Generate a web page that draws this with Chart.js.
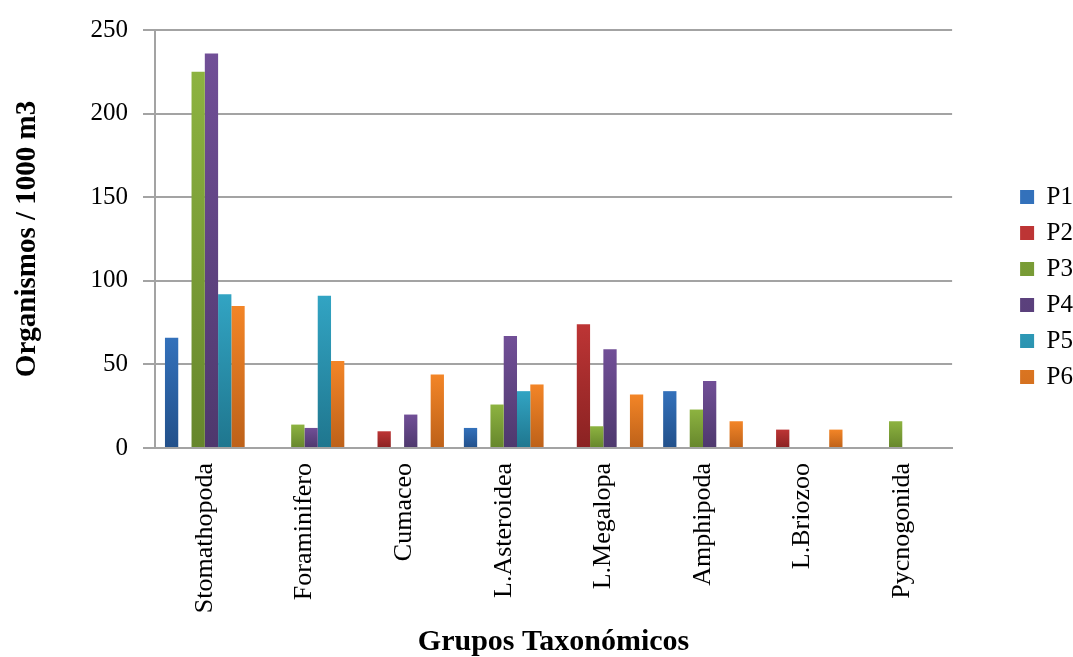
<!DOCTYPE html>
<html>
<head>
<meta charset="utf-8">
<script src="https://cdn.jsdelivr.net/npm/chart.js@4/dist/chart.umd.min.js"></script>
<style>
  html, body { margin: 0; padding: 0; background: #fff; }
  #wrap { width: 1073px; height: 657px; position: relative; }
</style>
</head>
<body>
<div id="wrap"><canvas id="chart"></canvas></div>
<script>
// grupos taxonomicos
const categories = ["Stomathopoda", "Foraminifero", "Cumaceo", "L.Asteroidea", "L.Megalopa", "Amphipoda", "L.Briozoo", "Pycnogonida"];
const seriesNames = ["P1", "P2", "P3", "P4", "P5", "P6"];

const p1 = [66, null, null, 12, null, 34, null, null];
const p2 = [null, null, 10, null, 74, null, 11, null];
const p3 = [225, 14, null, 26, 13, 23, null, 16];
const p4 = [236, 12, 20, 67, 59, 40, null, null];
const p5 = [92, 91, null, 34, null, null, null, null];
const p6 = [85, 52, 44, 38, 32, 16, 11, null];

const yTicks = [0, 50, 100, 150, 200, 250];

// light (top) / dark (bottom) shade per series
const topColors = ["#3371BB", "#BD3535", "#8DB340", "#714F97", "#32A4C3", "#F38527"];
const bottomColors = ["#22508A", "#8A2222", "#66862C", "#4E386D", "#1F768E", "#BD6119"];

const FONT = "'Liberation Serif', 'Times New Roman', serif";
const GRID = "#a3a3a3";

function barFill(i) {
    return function (ctx) {
        const chart = ctx.chart;
        if (!chart.chartArea || ctx.type !== "data" || !ctx.raw) return topColors[i];
        const y = chart.scales.y;
        const top = y.getPixelForValue(ctx.raw);
        const bottom = y.getPixelForValue(0);
        const g = chart.ctx.createLinearGradient(0, top, 0, bottom);
        g.addColorStop(0, topColors[i]);
        g.addColorStop(1, bottomColors[i]);
        return g;
    };
}

const allSeries = [p1, p2, p3, p4, p5, p6];
const datasets = allSeries.map((values, i) => ({
    label: seriesNames[i],
    data: values,
    backgroundColor: barFill(i),
    borderWidth: 0,
    categoryPercentage: 0.8,
    barPercentage: 1.0
}));

new Chart(document.getElementById("chart"), {
    type: "bar",
    data: { labels: categories, datasets: datasets },
    options: {
        responsive: true,
        maintainAspectRatio: false,
        animation: false,
        layout: { padding: { top: 24, right: -10, left: 0, bottom: 0 } },
        plugins: {
            tooltip: { enabled: false },
            legend: {
                position: "right",
                fullSize: false,
                title: { display: true, text: " ", font: { size: 10 }, padding: { top: 84, bottom: 0 } },
                labels: {
                    boxWidth: 14,
                    boxHeight: 14,
                    padding: 11,
                    color: "#000",
                    font: { family: FONT, size: 25 }
                }
            }
        },
        scales: {
            x: {
                grid: { display: false, drawTicks: false },
                border: { display: true, color: GRID, width: 2 },
                ticks: {
                    color: "#000",
                    font: { family: FONT, size: 26 },
                    minRotation: 90,
                    maxRotation: 90,
                    padding: 15
                },
                title: {
                    display: true,
                    text: "Grupos Taxonómicos",
                    color: "#000",
                    font: { family: FONT, size: 30, weight: "bold", lineHeight: 1 },
                    padding: { top: 0, bottom: 0 }
                },
                afterFit: s => { s.height = 209; }
            },
            y: {
                min: 0,
                max: 250,
                afterBuildTicks: s => { s.ticks = yTicks.map(v => ({ value: v })); },
                grid: { color: GRID, lineWidth: 2, drawTicks: true, tickLength: 12 },
                border: { display: true, color: GRID, width: 2 },
                ticks: {
                    color: "#000",
                    font: { family: FONT, size: 25 },
                    padding: 15
                },
                title: {
                    display: true,
                    text: "Organismos / 1000 m3",
                    color: "#000",
                    font: { family: FONT, size: 29, weight: "bold" },
                    padding: { top: 10, bottom: 0 }
                },
                afterFit: s => { s.width = 155; }
            },
            // empty spacer between plot and legend
            gap: {
                type: "linear",
                position: "right",
                display: true,
                grid: { display: false, drawTicks: false },
                border: { display: false },
                ticks: { display: false },
                afterFit: s => { s.width = 57; }
            }
        }
    }
});
</script>
</body>
</html>
